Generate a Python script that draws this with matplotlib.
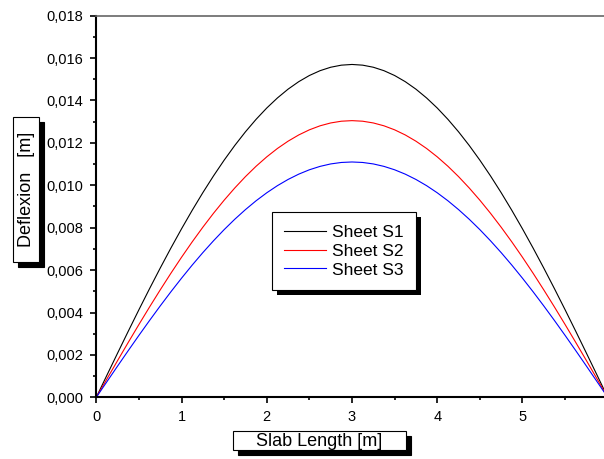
import numpy as np
import matplotlib.pyplot as plt
from matplotlib.patches import Rectangle
from matplotlib.ticker import MultipleLocator, FuncFormatter

plt.rcParams['font.family'] = ['Liberation Sans', 'DejaVu Sans']

# slab length positions [m]
x = [0, 0.125, 0.25, 0.375, 0.5, 0.625, 0.75, 0.875, 1.0, 1.125, 1.25, 1.375,
     1.5, 1.625, 1.75, 1.875, 2.0, 2.125, 2.25, 2.375, 2.5, 2.625, 2.75, 2.875,
     3.0, 3.125, 3.25, 3.375, 3.5, 3.625, 3.75, 3.875, 4.0, 4.125, 4.25, 4.375,
     4.5, 4.625, 4.75, 4.875, 5.0, 5.125, 5.25, 5.375, 5.5, 5.625, 5.75, 5.875, 6.0]

# deflexion [m]
s1 = [0, 0.001046, 0.002086, 0.003116, 0.004131, 0.005126, 0.006096, 0.007038,
      0.007947, 0.008820, 0.009653, 0.010443, 0.011186, 0.011881, 0.012524,
      0.013113, 0.013646, 0.014120, 0.014535, 0.014888, 0.015179, 0.015406,
      0.015569, 0.015667, 0.015700, 0.015667, 0.015569, 0.015406, 0.015179,
      0.014888, 0.014535, 0.014120, 0.013646, 0.013113, 0.012524, 0.011881,
      0.011186, 0.010443, 0.009653, 0.008820, 0.007947, 0.007038, 0.006096,
      0.005126, 0.004131, 0.003116, 0.002086, 0.001046, 0]
s2 = [0, 0.000869, 0.001734, 0.002590, 0.003434, 0.004261, 0.005067, 0.005850,
      0.006606, 0.007331, 0.008023, 0.008680, 0.009298, 0.009875, 0.010410,
      0.010900, 0.011342, 0.011737, 0.012081, 0.012375, 0.012617, 0.012806,
      0.012941, 0.013023, 0.013050, 0.013023, 0.012941, 0.012806, 0.012617,
      0.012375, 0.012081, 0.011737, 0.011342, 0.010900, 0.010410, 0.009875,
      0.009298, 0.008680, 0.008023, 0.007331, 0.006606, 0.005850, 0.005067,
      0.004261, 0.003434, 0.002590, 0.001734, 0.000869, 0]
s3 = [0, 0.000739, 0.001475, 0.002203, 0.002921, 0.003624, 0.004310, 0.004976,
      0.005618, 0.006236, 0.006825, 0.007383, 0.007909, 0.008400, 0.008854,
      0.009271, 0.009647, 0.009983, 0.010276, 0.010526, 0.010732, 0.010892,
      0.011008, 0.011077, 0.011100, 0.011077, 0.011008, 0.010892, 0.010732,
      0.010526, 0.010276, 0.009983, 0.009647, 0.009271, 0.008854, 0.008400,
      0.007909, 0.007383, 0.006825, 0.006236, 0.005618, 0.004976, 0.004310,
      0.003624, 0.002921, 0.002203, 0.001475, 0.000739, 0]
labels = ['Sheet S1', 'Sheet S2', 'Sheet S3']
colors = ['black', 'red', 'blue']

W, H = 604, 459
fig = plt.figure(figsize=(W / 100, H / 100), dpi=100)
# axes right edge falls just outside the picture, like the original
ax = fig.add_axes([96.3 / W, 1 - 397.3 / H, (607.7 - 96.3) / W, (397.3 - 15.7) / H])

for ys, lab, c in zip([s1, s2, s3], labels, colors):
    ax.plot(x, ys, color=c, lw=0.8, label=lab)

ax.set_xlim(0, 6)
ax.set_ylim(0, 0.018)
ax.xaxis.set_major_locator(MultipleLocator(1))
ax.xaxis.set_minor_locator(MultipleLocator(0.5))
ax.yaxis.set_major_locator(MultipleLocator(0.002))
ax.yaxis.set_minor_locator(MultipleLocator(0.001))
ax.yaxis.set_major_formatter(FuncFormatter(lambda v, p: f'{v:.3f}'.replace('.', ',')))
ax.xaxis.set_major_formatter(FuncFormatter(lambda v, p: f'{v:.0f}'))
ax.tick_params(which='both', direction='out', width=1.2, labelsize=10.5, top=False, right=False)
ax.tick_params(which='major', length=4.5, pad=5)
ax.tick_params(which='minor', length=2.5)
for side in ['left', 'bottom']:
    ax.spines[side].set_linewidth(1.5)
ax.spines['top'].set_linewidth(1.2)
ax.spines['top'].set_color('#666666')


def shadow_box(x0, y0, x1, y1, off=5):
    # pixel coords from the top-left corner of the picture
    for dx, fc, z in [(off, 'black', 10), (0, 'white', 11)]:
        r = Rectangle(((x0 + dx) / W, 1 - (y1 + dx) / H), (x1 - x0) / W, (y1 - y0) / H,
                      transform=fig.transFigure, facecolor=fc, edgecolor='black',
                      lw=0.8, zorder=z)
        fig.add_artist(r)


shadow_box(233, 431, 406, 450)
fig.text((233 + 406) / 2 / W, 1 - 441 / H, 'Slab Length [m]', ha='center', va='center',
         fontsize=13, zorder=12)
shadow_box(13, 117, 39, 262)
fig.text(26.5 / W, 1 - 189.5 / H, 'Deflexion   [m]', ha='center', va='center', rotation=90,
         fontsize=13, zorder=12)

leg = ax.legend(loc='upper left', bbox_to_anchor=(272.3 / W, 1 - 212.3 / H),
                bbox_transform=fig.transFigure, borderaxespad=0, fancybox=False,
                framealpha=1, edgecolor='black', fontsize=12.5, handlelength=2.4,
                handletextpad=0.35, labelspacing=0.22, borderpad=0.7)
leg.get_frame().set_linewidth(0.8)
fig.canvas.draw()
bb = leg.get_frame().get_window_extent()
sh = Rectangle((0, 0), 1, 1, facecolor='black', edgecolor='none', zorder=4,
               clip_on=False, transform=fig.dpi_scale_trans)
sh.set_bounds((bb.x0 + 5) / 100, (bb.y0 - 5) / 100, bb.width / 100, bb.height / 100)
ax.add_artist(sh)

fig.savefig('out.png', dpi=100)
